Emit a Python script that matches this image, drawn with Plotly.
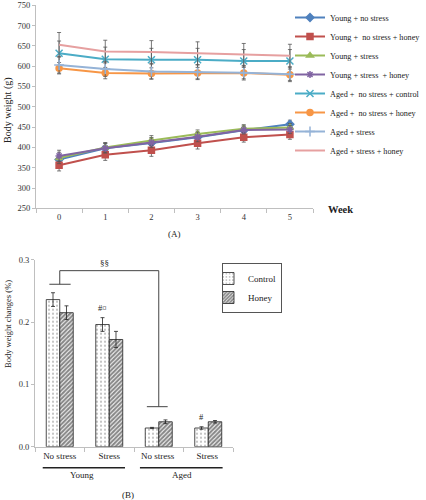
import plotly.graph_objects as go

weeks = ["0", "1", "2", "3", "4", "5"]

series_names = [
    "Young + no stress",
    "Young +  no stress + honey",
    "Young + stress",
    "Young + stress  + honey",
    "Aged +  no stress + control",
    "Aged +  no stress + honey",
    "Aged + stress",
    "Aged + stress + honey",
]
young_ns = [370, 398, 411, 425, 442, 457]
young_ns_h = [356, 382, 393, 410, 425, 432]
young_s = [374, 400, 417, 433, 446, 449]
young_s_h = [379, 398, 412, 426, 443, 444]
aged_ns_c = [632, 617, 616, 616, 613, 613]
aged_ns_h = [595, 583, 582, 583, 583, 579]
aged_s = [603, 593, 587, 585, 584, 580]
aged_s_h = [653, 636, 635, 632, 628, 626]

err_young_ns = [12, 12, 12, 12, 10, 10]
err_young_ns_h = [14, 14, 15, 14, 12, 12]
err_young_s = [14, 12, 12, 10, 10, 10]
err_young_s_h = [14, 12, 12, 12, 10, 10]
err_aged_ns_c = [30, 30, 28, 28, 28, 28]
err_aged_ns_h = [14, 14, 14, 14, 14, 14]
err_aged_s = [20, 18, 18, 18, 18, 18]
err_aged_s_h = [30, 28, 28, 28, 28, 28]

bar_groups = ["No stress", "Stress", "No stress ", "Stress "]
control_vals = [0.236, 0.196, 0.030, 0.030]
control_err = [0.011, 0.011, 0.001, 0.002]
honey_vals = [0.215, 0.172, 0.040, 0.040]
honey_err = [0.011, 0.013, 0.003, 0.002]

FONT = "Liberation Serif"

line_series = [
    (young_ns, err_young_ns, "#4F81BD", "diamond", 6),
    (young_ns_h, err_young_ns_h, "#C0504D", "square", 6),
    (young_s, err_young_s, "#9BBB59", "triangle-up", 6),
    (young_s_h, err_young_s_h, "#8064A2", "asterisk-open", 6),
    (aged_ns_c, err_aged_ns_c, "#4BACC6", "x-thin-open", 7),
    (aged_ns_h, err_aged_ns_h, "#F79646", "circle", 6),
    (aged_s, err_aged_s, "#95B3D7", "cross-thin-open", 7),
    (aged_s_h, err_aged_s_h, "#E6A0A0", None, 0),
]

fig = go.Figure()

for name, (vals, errs, col, sym, sz) in zip(series_names, line_series):
    mode = "lines+markers" if sym else "lines"
    marker = dict(color=col, symbol=sym, size=sz, line=dict(color=col, width=1.5)) if sym else None
    fig.add_trace(go.Scatter(
        x=weeks, y=vals, name=name, mode=mode,
        line=dict(color=col, width=2),
        marker=marker,
        error_y=dict(type="data", array=errs, color="#555555", thickness=0.8, width=2),
        xaxis="x", yaxis="y", legend="legend",
    ))

fig.add_trace(go.Bar(
    x=bar_groups, y=control_vals, name="Control",
    marker=dict(color="white", line=dict(color="#222222", width=0.8),
                pattern=dict(shape=".", fgcolor="#666666", bgcolor="white", size=4, solidity=0.2)),
    error_y=dict(type="data", array=control_err, color="#222222", thickness=0.8, width=2),
    xaxis="x2", yaxis="y2", legend="legend2",
))
fig.add_trace(go.Bar(
    x=bar_groups, y=honey_vals, name="Honey",
    marker=dict(color="white", line=dict(color="#222222", width=0.8),
                pattern=dict(shape="/", fgcolor="#111111", bgcolor="white", size=3, solidity=0.7)),
    error_y=dict(type="data", array=honey_err, color="#222222", thickness=0.8, width=2),
    xaxis="x2", yaxis="y2", legend="legend2",
))

axis_font = dict(family=FONT, size=8.5, color="#333333")

fig.update_layout(
    width=426, height=500,
    margin=dict(l=0, r=0, t=0, b=0, autoexpand=False),
    paper_bgcolor="white", plot_bgcolor="white",
    font=dict(family=FONT, size=9, color="#222222"),
    barmode="group", bargap=0.455, bargroupgap=0,
    xaxis=dict(domain=[36 / 426, 313 / 426], type="category", range=[-0.5, 5.5],
               tickson="boundaries", ticks="outside", ticklen=4, tickcolor="#BFBFBF",
               showline=True, linecolor="#BFBFBF", linewidth=1, showgrid=False,
               tickfont=axis_font, anchor="y", automargin=False),
    yaxis=dict(domain=[1 - 208.3 / 500, 1 - 5.3 / 500], range=[250, 750], dtick=50,
               ticks="outside", ticklen=3, tickcolor="#BFBFBF",
               showline=True, linecolor="#BFBFBF", linewidth=1, showgrid=False,
               zeroline=False, tickfont=axis_font, anchor="x", automargin=False),
    xaxis2=dict(domain=[35 / 426, 233 / 426], type="category", range=[-0.5, 3.5],
                tickson="boundaries", ticks="outside", ticklen=4, tickcolor="#BFBFBF",
                showline=True, linecolor="#BFBFBF", linewidth=1, showgrid=False,
                tickfont=dict(family=FONT, size=9, color="#222222"), anchor="y2",
                automargin=False),
    yaxis2=dict(domain=[1 - 446.7 / 500, 1 - 259.7 / 500], range=[0, 0.3], dtick=0.1,
                tickformat=".1f", ticks="outside", ticklen=3, tickcolor="#BFBFBF",
                showline=True, linecolor="#BFBFBF", linewidth=1, showgrid=False,
                zeroline=False, tickfont=axis_font, anchor="x2", automargin=False),
    legend=dict(x=290 / 426, y=1 - 3 / 500, xanchor="left", yanchor="top",
                font=dict(family=FONT, size=8.2, color="#222222"),
                bgcolor="rgba(0,0,0,0)", tracegroupgap=0, itemwidth=30),
    legend2=dict(x=222 / 426, y=1 - 263 / 500, xanchor="left", yanchor="top",
                 font=dict(family=FONT, size=9, color="#222222"),
                 bgcolor="white", bordercolor="#555555", borderwidth=1, itemwidth=30,
                 indentation=-15),
)


def ann(text, x, y, xref="paper", yref="paper", size=9, angle=0, yanchor="middle"):
    return dict(text=text, x=x, y=y, xref=xref, yref=yref, textangle=angle,
                xanchor="center", yanchor=yanchor, showarrow=False,
                font=dict(family=FONT, size=size, color="#222222"))


annotations = [
    ann("Body weight (g)", 8 / 426, 1 - 110 / 500, size=10, angle=-90),
    ann("<b>Week</b>", 340 / 426, 1 - 210 / 500, size=10.5),
    ann("(A)", 174 / 426, 1 - 234 / 500),
    ann("Body weight changes (%)", 8 / 426, 1 - 324 / 500, size=8.5, angle=-90),
    ann("Young", 0.45, 1 - 475 / 500, xref="x2"),
    ann("Aged", 2.47, 1 - 475 / 500, xref="x2"),
    ann("(B)", 128 / 426, 1 - 495 / 500),
    ann("§§", 0.91, 0.284, xref="x2", yref="y2", yanchor="bottom"),
    ann("#¤", 0.864, control_vals[1] + control_err[1] + 0.004, xref="x2", yref="y2",
        size=8.5, yanchor="bottom"),
    ann("#", 2.864, control_vals[3] + control_err[3] + 0.004, xref="x2", yref="y2",
        size=8.5, yanchor="bottom"),
]
fig.update_layout(annotations=annotations)

bk = dict(color="#444444", width=1)
shapes = [
    # significance bracket
    dict(type="line", xref="x2", yref="y2", x0=0, x1=2, y0=0.2824, y1=0.2824, line=bk),
    dict(type="line", xref="x2", yref="y2", x0=0, x1=0, y0=0.2824, y1=0.2606, line=bk),
    dict(type="line", xref="x2", yref="y2", x0=-0.21, x1=0.22, y0=0.2606, y1=0.2606, line=bk),
    dict(type="line", xref="x2", yref="y2", x0=2, x1=2, y0=0.2824, y1=0.0642, line=bk),
    dict(type="line", xref="x2", yref="y2", x0=1.76, x1=2.18, y0=0.0642, y1=0.0642, line=bk),
    # group underlines
    dict(type="line", xref="x2", yref="paper", x0=-0.344, x1=1.318,
         y0=1 - 467.7 / 500, y1=1 - 467.7 / 500, line=dict(color="#222222", width=1.5)),
    dict(type="line", xref="x2", yref="paper", x0=1.62, x1=3.29,
         y0=1 - 467.7 / 500, y1=1 - 467.7 / 500, line=dict(color="#222222", width=1.5)),
]
fig.update_layout(shapes=shapes)

fig.write_html("out.html", config={"displayModeBar": False},
               post_script="document.body.style.margin='0';")
